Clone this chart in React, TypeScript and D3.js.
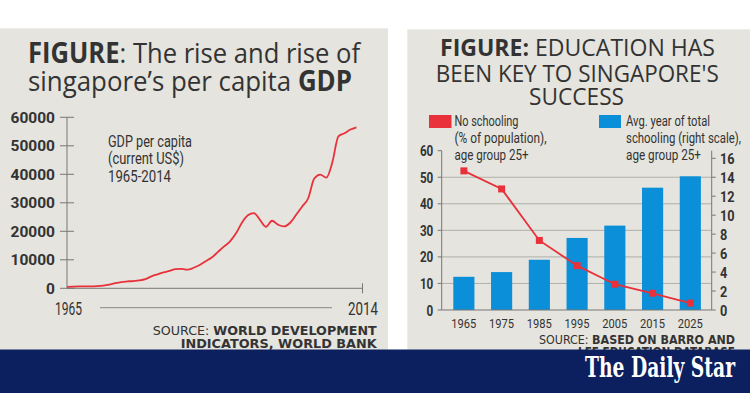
import React from "react";
import * as d3 from "d3";

// ---------- Data ----------
const gdpYears = [
  1965, 1966, 1967, 1968, 1969, 1970, 1971, 1972, 1973, 1974,
  1975, 1976, 1977, 1978, 1979, 1980, 1981, 1982, 1983, 1984,
  1985, 1986, 1987, 1988, 1989, 1990, 1991, 1992, 1993, 1994,
  1995, 1996, 1997, 1998, 1999, 2000, 2001, 2002, 2003, 2004,
  2005, 2006, 2007, 2008, 2009, 2010, 2011, 2012, 2013,
];
const gdpValues = [
  500, 600, 650, 650, 650, 750, 950, 1300, 1800, 2200,
  2400, 2550, 2750, 3200, 4200, 4900, 5600, 6100, 6700, 6800,
  6550, 7200, 8200, 9500, 10800, 12700, 14600, 16400, 19200, 23000,
  25600, 26400, 24000, 21600, 23700, 22300, 21700, 23000, 25800, 28700,
  31600, 38500, 39900, 38800, 44200, 53300, 54400, 55700, 56500,
];
const gdpTicks = [0, 10000, 20000, 30000, 40000, 50000, 60000];

const eduYears = ["1965", "1975", "1985", "1995", "2005", "2015", "2025"];
const noSchooling = [52.4, 45.6, 26.2, 16.7, 9.7, 6.3, 2.6];
const avgYears = [3.5, 4.0, 5.3, 7.6, 8.9, 12.9, 14.1];
const leftTicks = [0, 10, 20, 30, 40, 50, 60];
const rightTicks = [0, 2, 4, 6, 8, 10, 12, 14, 16];

// ---------- Style ----------
const PANEL = "#e5e4de";
const INK = "#333333";
const RED = "#e8313a";
const BLUE = "#0b8fd8";
const NAVY = "#0c1f5f";
const SANS = "Roboto, 'Open Sans', sans-serif";
const WIDE = "'DejaVu Sans', Verdana, sans-serif";
const TITLE = "'Open Sans', 'Noto Sans', sans-serif";

function GdpChart() {
  const x = d3.scaleLinear().domain([1965, 2014]).range([67, 362.5]);
  const y = d3.scaleLinear().domain([0, 60000]).range([288.3, 117.3]);
  const line = d3
    .line<number>()
    .x((_, i) => x(gdpYears[i]))
    .y((d) => y(d))
    .curve(d3.curveMonotoneX);
  return (
    <g>
      {/* axes */}
      <line x1={x(1965)} x2={x(1965)} y1={y(60000)} y2={y(0)} stroke="#777" strokeWidth={1} />
      <line x1={x(1965)} x2={x(2014)} y1={y(0)} y2={y(0)} stroke="#777" strokeWidth={1} />
      <line x1={x(2014)} x2={x(2014)} y1={y(0) - 5} y2={y(0) + 5} stroke="#777" strokeWidth={1} />
      {gdpTicks.map((t) => (
        <g key={t}>
          <line x1={x(1965) - 7} x2={x(1965) + 7} y1={y(t)} y2={y(t)} stroke="#777" strokeWidth={1} />
          <text
            x={55}
            y={y(t) + 5.5}
            textAnchor="end"
            fontFamily={SANS}
            fontWeight={700}
            fontSize={15.5}
            fill={INK}
          >
            {t}
          </text>
        </g>
      ))}
      <text x={68.5} y={315} textAnchor="middle" fontFamily={SANS} fontSize={18} fill={INK} textLength={27} lengthAdjust="spacingAndGlyphs">
        1965
      </text>
      <text x={363} y={315} textAnchor="middle" fontFamily={SANS} fontSize={18} fill={INK} textLength={30} lengthAdjust="spacingAndGlyphs">
        2014
      </text>
      <line x1={100} x2={332} y1={307.7} y2={307.7} stroke="#888" strokeWidth={1} />
      {/* annotation */}
      <g fontFamily={SANS} fontSize={16} fill={INK}>
        <text x={108} y={146.7} textLength={84} lengthAdjust="spacingAndGlyphs">GDP per capita</text>
        <text x={108} y={163.5} textLength={76} lengthAdjust="spacingAndGlyphs">(current US$)</text>
        <text x={108} y={181.7} textLength={63} lengthAdjust="spacingAndGlyphs">1965-2014</text>
      </g>
      <path d={line(gdpValues) || ""} fill="none" stroke={RED} strokeWidth={1.8} strokeLinejoin="round" />
    </g>
  );
}

function EduChart() {
  const x = d3.scaleBand<string>().domain(eduYears).range([445, 709.2]).paddingInner(0.44).paddingOuter(0.22);
  const yL = d3.scaleLinear().domain([0, 60]).range([310, 150.7]);
  const yR = d3.scaleLinear().domain([0, 14]).range([310, yL(50)]);
  const left = 441.7;
  const right = 711.7;
  const line = d3
    .line<number>()
    .x((_, i) => (x(eduYears[i]) as number) + x.bandwidth() / 2)
    .y((d) => yL(d));
  return (
    <g>
      {/* grid */}
      {leftTicks
        .filter((t) => t > 0 && t < 60)
        .map((t) => (
          <line key={t} x1={left} x2={right} y1={yL(t)} y2={yL(t)} stroke="#a9a9a4" strokeWidth={0.9} />
        ))}
      {/* bars */}
      {avgYears.map((v, i) => (
        <rect
          key={eduYears[i]}
          x={x(eduYears[i])}
          width={x.bandwidth()}
          y={yR(v)}
          height={yR(0) - yR(v)}
          fill={BLUE}
        />
      ))}
      {/* axes */}
      <line x1={left} x2={left} y1={yL(60)} y2={yL(0)} stroke="#777" strokeWidth={1} />
      <line x1={right} x2={right} y1={yL(60)} y2={yL(0)} stroke="#777" strokeWidth={1} />
      <line x1={left} x2={right} y1={yL(0)} y2={yL(0)} stroke="#777" strokeWidth={1} />
      {leftTicks.map((t) => (
        <g key={t}>
          <line x1={left - 4} x2={left} y1={yL(t)} y2={yL(t)} stroke="#777" />
          <text
            x={433.3}
            y={yL(t) + 5.5}
            textAnchor="end"
            fontFamily={SANS}
            fontWeight={700}
            fontSize={15.5}
            fill={INK}
            textLength={String(t).length * 6.7}
            lengthAdjust="spacingAndGlyphs"
          >
            {t}
          </text>
        </g>
      ))}
      {rightTicks.map((t) => (
        <g key={t}>
          <line x1={right} x2={right + 4} y1={yR(t)} y2={yR(t)} stroke="#777" />
          <text
            x={720}
            y={yR(t) + 5.5}
            fontFamily={SANS}
            fontWeight={700}
            fontSize={15.5}
            fill={INK}
            textLength={String(t).length * 7.3}
            lengthAdjust="spacingAndGlyphs"
          >
            {t}
          </text>
        </g>
      ))}
      {eduYears.map((yr) => (
        <text
          key={yr}
          x={(x(yr) as number) + x.bandwidth() / 2}
          y={328}
          textAnchor="middle"
          fontFamily={SANS}
          fontSize={13}
          fill={INK}
          textLength={25}
          lengthAdjust="spacingAndGlyphs"
        >
          {yr}
        </text>
      ))}
      {/* line */}
      <path d={line(noSchooling) || ""} fill="none" stroke={RED} strokeWidth={1.8} />
      {noSchooling.map((v, i) => (
        <rect
          key={i}
          x={(x(eduYears[i]) as number) + x.bandwidth() / 2 - 3.5}
          y={yL(v) - 3.5}
          width={7}
          height={7}
          fill={RED}
        />
      ))}
      {/* legend */}
      <rect x={429} y={115} width={22.5} height={13} fill={RED} />
      <rect x={599} y={115} width={22} height={13} fill={BLUE} />
      <g fontFamily={SANS} fontSize={15} fill={INK}>
        <text x={454.5} y={126} textLength={64} lengthAdjust="spacingAndGlyphs">No schooling</text>
        <text x={454.5} y={143} textLength={92} lengthAdjust="spacingAndGlyphs">(% of population),</text>
        <text x={454.5} y={160} textLength={74} lengthAdjust="spacingAndGlyphs">age group 25+</text>
        <text x={626} y={126} textLength={84} lengthAdjust="spacingAndGlyphs">Avg. year of total</text>
        <text x={626} y={143} textLength={115} lengthAdjust="spacingAndGlyphs">schooling (right scale),</text>
        <text x={626} y={160} textLength={75} lengthAdjust="spacingAndGlyphs">age group 25+</text>
      </g>
    </g>
  );
}

export default function App() {
  return (
    <svg
      width={750}
      height={393}
      viewBox="0 0 750 393"
      style={{ position: "absolute", left: 0, top: 0, display: "block" }}
    >
      <rect x={0} y={0} width={750} height={393} fill="#ffffff" />
      <rect x={0} y={28.3} width={388} height={330} fill={PANEL} />
      <rect x={407.3} y={29.3} width={342.7} height={330} fill={PANEL} />

      {/* left title */}
      <g fontFamily={TITLE} fontSize={28} fill={INK}>
        <text x={28} y={63.3} textLength={332} lengthAdjust="spacingAndGlyphs">
          <tspan fontWeight={700}>FIGURE</tspan>: The rise and rise of
        </text>
        <text x={28} y={90.7} textLength={324} lengthAdjust="spacingAndGlyphs">
          singapore’s per capita <tspan fontWeight={700}>GDP</tspan>
        </text>
      </g>
      {/* right title */}
      <g fontFamily={TITLE} fontSize={23.5} fill={INK}>
        <text x={440} y={56} textLength={275} lengthAdjust="spacingAndGlyphs">
          <tspan fontWeight={700}>FIGURE:</tspan> EDUCATION HAS
        </text>
        <text x={435.7} y={81.7} textLength={283} lengthAdjust="spacingAndGlyphs">
          BEEN KEY TO SINGAPORE'S
        </text>
        <text x={529} y={105.3} textLength={95} lengthAdjust="spacingAndGlyphs">
          SUCCESS
        </text>
      </g>

      <GdpChart />
      <EduChart />

      {/* sources */}
      <g fontFamily={WIDE} fontSize={12.3} fill={INK}>
        <text x={376.7} y={335} textAnchor="end" textLength={224} lengthAdjust="spacingAndGlyphs">
          SOURCE: <tspan fontWeight={700}>WORLD DEVELOPMENT</tspan>
        </text>
        <text x={376.7} y={348} textAnchor="end" fontWeight={700} textLength={196} lengthAdjust="spacingAndGlyphs">
          INDICATORS, WORLD BANK
        </text>
        <text x={735} y={344} textAnchor="end" textLength={196} lengthAdjust="spacingAndGlyphs">
          SOURCE: <tspan fontWeight={700}>BASED ON BARRO AND</tspan>
        </text>
        <text x={735} y={355.5} textAnchor="end" fontWeight={700} textLength={157} lengthAdjust="spacingAndGlyphs">
          LEE EDUCATION DATABASE
        </text>
      </g>

      {/* banner */}
      <rect x={0} y={349.5} width={750} height={43.5} fill={NAVY} />
      <text
        x={585}
        y={377}
        fontFamily="'DejaVu Serif', 'Liberation Serif', serif"
        fontWeight={700}
        fontSize={27}
        fill="#ffffff"
        textLength={150}
        lengthAdjust="spacingAndGlyphs"
      >
        The Daily Star
      </text>
    </svg>
  );
}
